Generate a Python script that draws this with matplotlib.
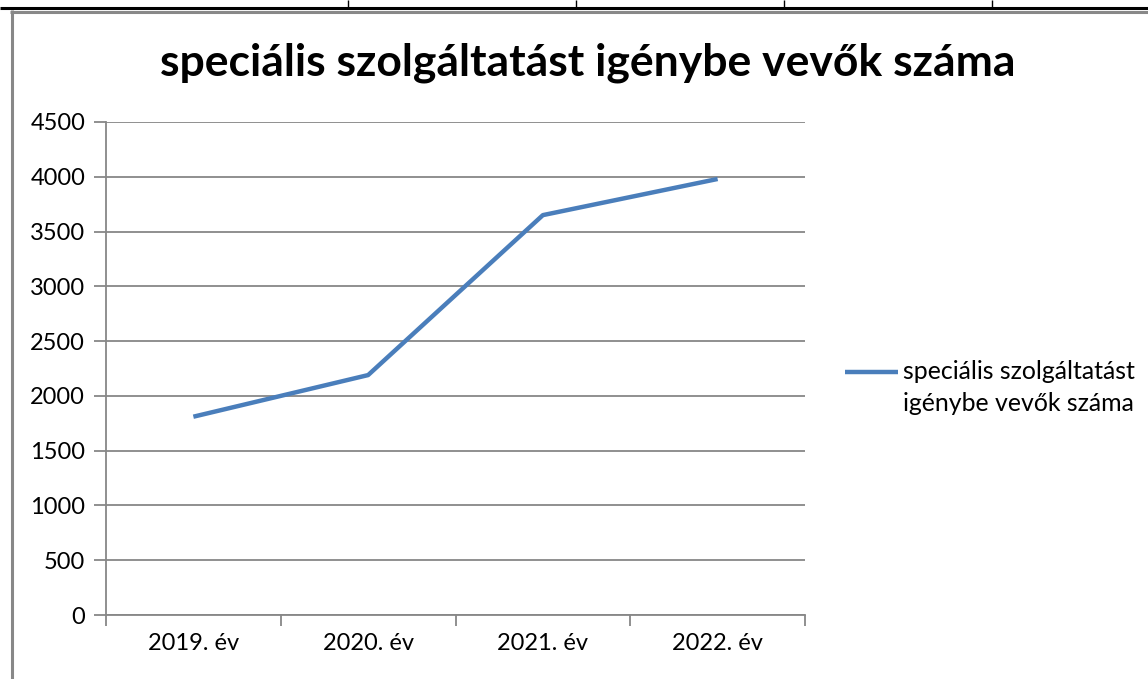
import matplotlib
matplotlib.use("Agg")
import matplotlib.pyplot as plt
from matplotlib.lines import Line2D

categories = ["2019. év", "2020. év", "2021. év", "2022. év"]
values = [1810, 2190, 3650, 3980]
series_name = "speciális szolgáltatást\nigénybe vevők száma"
title = "speciális szolgáltatást igénybe vevők száma"
yticks = [0, 500, 1000, 1500, 2000, 2500, 3000, 3500, 4000, 4500]

plt.rcParams["font.family"] = ["Lato", "DejaVu Sans"]

W, H = 1148, 679
fig = plt.figure(figsize=(W / 100, H / 100), dpi=100)
ax = fig.add_axes([106 / W, 1 - 615 / H, (805 - 106) / W, (615 - 122) / H])

grid_c = "#878787"
line_c = "#4a7ebb"

x = list(range(len(categories)))
ax.plot(x, values, color=line_c, lw=3.2, solid_capstyle="butt", zorder=3,
        label=series_name)

ax.set_xlim(-0.5, len(categories) - 0.5)
ax.set_ylim(0, 4500)
ax.set_yticks(yticks)
ax.set_yticklabels([str(v) for v in yticks])
for v in yticks:
    ax.axhline(v, color=grid_c, lw=1.3, zorder=1)

ax.set_xticks(x)
ax.set_xticklabels(categories)
ax.set_xticks([i - 0.5 for i in range(len(categories) + 1)], minor=True)
ax.tick_params(axis="x", which="major", length=0, pad=13, labelsize=17)
ax.tick_params(axis="x", which="minor", length=8, width=1.3, color=grid_c,
               direction="out")
ax.tick_params(axis="y", length=9, width=1.3, color=grid_c, pad=6, labelsize=17)

for s in ["top", "right"]:
    ax.spines[s].set_visible(False)
ax.spines["left"].set_color(grid_c)
ax.spines["left"].set_linewidth(1.3)
ax.spines["bottom"].set_color(grid_c)
ax.spines["bottom"].set_linewidth(1.3)

fig.text(588 / W, 1 - 63 / H, title, ha="center", va="center",
         fontsize=32, fontweight="bold")

# legend: handle aligned with the first text line, as in the reference
leg_y = 372
fig.add_artist(Line2D([845 / W, 898 / W], [1 - leg_y / H, 1 - leg_y / H],
                      color=line_c, lw=3.2, transform=fig.transFigure,
                      solid_capstyle="butt"))
fig.text(903 / W, 1 - (leg_y - 12) / H, series_name, ha="left", va="top",
         fontsize=17.9, linespacing=1.45)

# surrounding frame and table lines
def fl(xs, ys, c, lw):
    fig.add_artist(Line2D([p / W for p in xs], [1 - p / H for p in ys],
                          color=c, lw=lw, transform=fig.transFigure,
                          solid_capstyle="butt"))

fl([0, W], [8, 8], "black", 2.2)
for xv in [348, 576, 784, 992]:
    fl([xv, xv], [0, 8], "black", 1.0)
fl([10, W], [11.5, 11.5], "#888888", 2.2)
fl([11.5, 11.5], [10, H], "#888888", 2.2)

fig.savefig("out.png", dpi=100)
